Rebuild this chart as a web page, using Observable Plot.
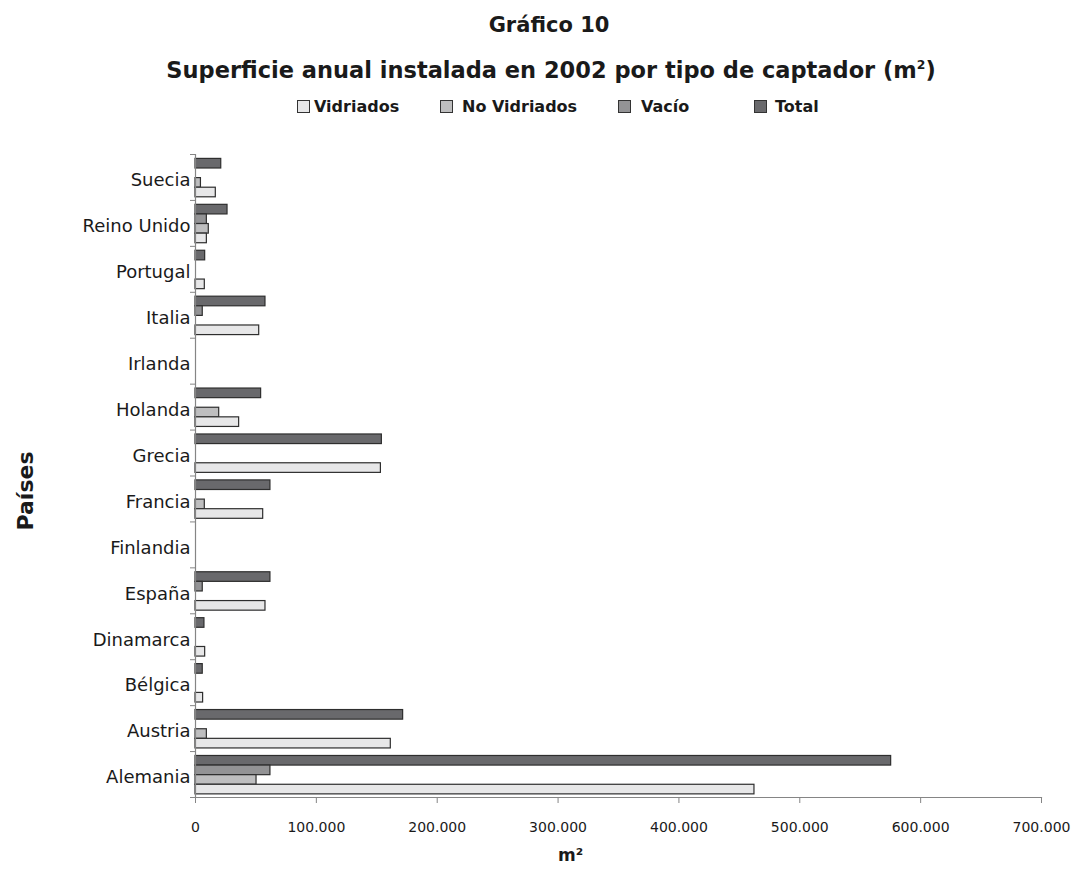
<!DOCTYPE html>
<html>
<head>
<meta charset="utf-8">
<script src="https://cdn.jsdelivr.net/npm/d3@7"></script>
<script src="https://cdn.jsdelivr.net/npm/@observablehq/plot@0.6"></script>
<style>
  html, body { margin: 0; padding: 0; background: #fff; }
  body { width: 1076px; height: 871px; overflow: hidden; font-family: "DejaVu Sans", Verdana, sans-serif; color: #1a1a1a; }
  #header { position: relative; width: 1076px; height: 120px; }
  .t { position: absolute; white-space: nowrap; font-weight: bold; transform: translateX(-50%); line-height: 1; }
  .lt { position: absolute; top: 97px; font-size: 16px; font-weight: bold; white-space: nowrap; line-height: 19px; }
  .sw { position: absolute; top: 100px; width: 11px; height: 11px; border: 1px solid #333; }
</style>
</head>
<body>
<div id="header"></div>
<div id="chart"></div>
<script>
// ---- data ----
const countries = ["Suecia","Reino Unido","Portugal","Italia","Irlanda","Holanda","Grecia","Francia","Finlandia","España","Dinamarca","Bélgica","Austria","Alemania"];
const vidriados   = [16800, 9400, 7700, 52700, 0, 36100, 153400, 56000, 0, 57900, 8000, 6300, 161600, 462500];
const noVidriados = [4500, 11000, 0, 0, 0, 19600, 0, 7700, 0, 0, 0, 0, 9400, 50500];
const vacio       = [0, 9400, 0, 6000, 0, 0, 0, 0, 0, 6000, 0, 0, 0, 62000];
const total       = [21300, 26500, 8000, 57900, 0, 54300, 154200, 62000, 0, 62000, 7400, 6000, 171800, 575600];
const seriesNames = ["Vidriados", "No Vidriados", "Vacío", "Total"];
const seriesColors = ["#e7e7e8", "#bebebf", "#939395", "#69696c"];
const xTicks = [0, 100000, 200000, 300000, 400000, 500000, 600000, 700000];

// ---- header (titles + legend) ----
const header = document.getElementById("header");
function addEl(cls, html, css) {
  const el = document.createElement("div");
  el.className = cls; el.innerHTML = html;
  Object.assign(el.style, css);
  header.appendChild(el);
  return el;
}
addEl("t", "Gráfico 10", {left: "549px", top: "15px", fontSize: "21px"});
addEl("t", "Superficie anual instalada en 2002 por tipo de captador (m<sup style='font-size:55%;vertical-align:75%'>2</sup>)",
      {left: "551px", top: "59px", fontSize: "22.5px"});
const swatchLeft = [297, 440, 618, 754];
const textLeft = [314, 462, 641, 775];
seriesNames.forEach((n, i) => {
  addEl("sw", "", {left: swatchLeft[i] + "px", background: seriesColors[i]});
  addEl("lt", n, {left: textLeft[i] + "px"});
});

// ---- chart ----
const W = 1076, H = 751, mT = 34, mB = 74, mL = 195, mR = 35;
const band = (H - mT - mB) / countries.length;
const barH = 9.6, padTop = 4.4;
const seriesValues = [vidriados, noVidriados, vacio, total];
const order = [3, 2, 1, 0]; // Total on top ... Vidriados at the bottom of each band
const fmt = d => d3.format(",")(d).replace(/,/g, ".");

const barMarks = order.map((si, k) => {
  const rows = countries.map((c, i) => ({country: c, value: seriesValues[si][i], serie: seriesNames[si]}))
                        .filter(d => d.value > 0);
  return Plot.barX(rows, {
    y: "country", x: "value",
    fill: seriesColors[si], stroke: "#2e2e2e", strokeWidth: 1.2,
    insetTop: padTop + k * barH,
    insetBottom: band - padTop - (k + 1) * barH
  });
});

const chart = Plot.plot({
  width: W, height: H,
  marginTop: mT, marginBottom: mB, marginLeft: mL, marginRight: mR,
  style: {fontFamily: "DejaVu Sans, Verdana, sans-serif", background: "#fff", color: "#1a1a1a"},
  x: {domain: [0, 700000]},
  y: {domain: countries, padding: 0, round: false},
  marks: [
    ...barMarks,
    Plot.ruleX([0], {stroke: "#858585", strokeWidth: 1.2}),
    Plot.frame({anchor: "bottom", stroke: "#858585", strokeWidth: 1.2}),
    Plot.axisX({ticks: xTicks, tickFormat: fmt, tickSize: 6, tickPadding: 19, fontSize: 14, stroke: "#858585", fill: "#1a1a1a", label: null}),
    Plot.axisY({tickSize: 0, tickPadding: 5, dy: 3, fontSize: 18, fill: "#1a1a1a", label: null}),
    Plot.axisY({tickSize: 5, text: null, dy: band / 2, stroke: "#858585", label: null}),
    Plot.axisY({ticks: [countries[0]], tickSize: 5, text: null, dy: -band / 2, stroke: "#858585", label: null}),
    Plot.text(["Países"], {text: d => d, frameAnchor: "left", textAnchor: "middle", lineAnchor: "middle", dx: -170, dy: 15, rotate: -90, fontSize: 22, fontWeight: "bold", fill: "#1a1a1a"}),
    Plot.text(["m²"], {text: d => d, frameAnchor: "bottom", textAnchor: "middle", lineAnchor: "middle", dx: -48, dy: 58, fontSize: 17, fontWeight: "bold", fill: "#1a1a1a"})
  ]
});
document.getElementById("chart").appendChild(chart);
</script>
</body>
</html>
